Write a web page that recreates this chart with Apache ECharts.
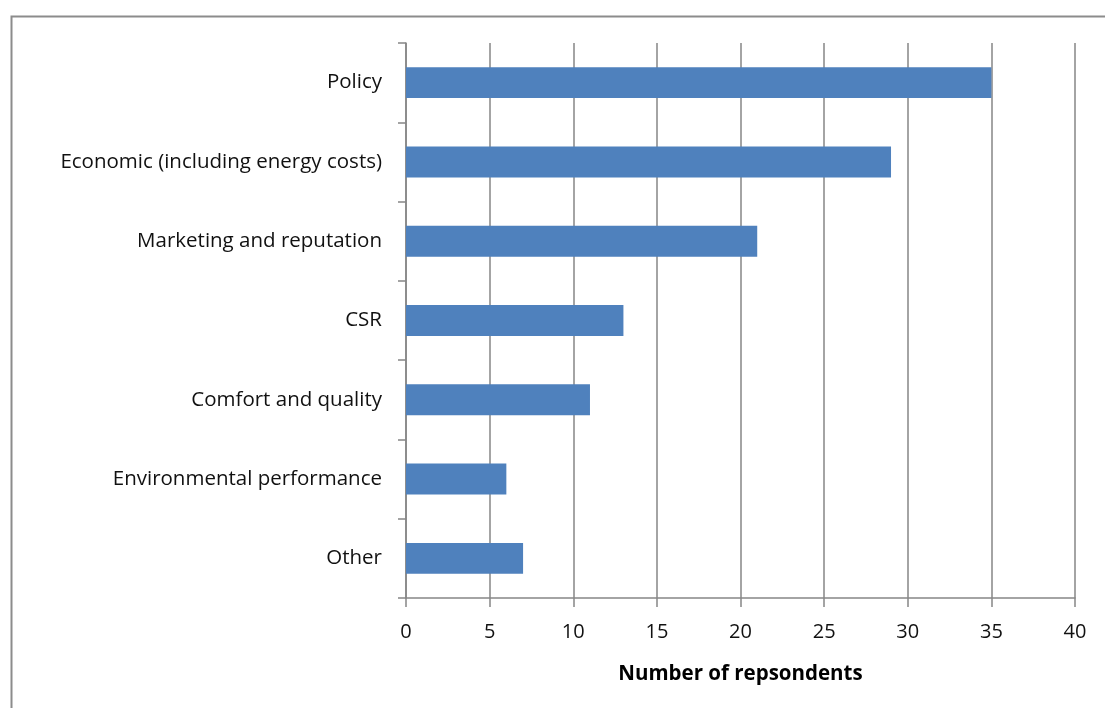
<!DOCTYPE html>
<html>
<head>
<meta charset="utf-8">
<script src="https://cdn.jsdelivr.net/npm/echarts@6/dist/echarts.min.js"></script>
<style>
html,body{margin:0;padding:0;background:#fff;}
#main{width:1105px;height:708px;}
</style>
</head>
<body>
<div id="main"></div>
<script>
const categories = ["Policy", "Economic (including energy costs)", "Marketing and reputation", "CSR", "Comfort and quality", "Environmental performance", "Other"];
const respondents = [35, 29, 21, 13, 11, 6, 7];
const xTicks = {min: 0, max: 40, interval: 5};

const chart = echarts.init(document.getElementById('main'), null, {renderer: 'canvas'});
const font = '"Open Sans", Lato, sans-serif';
chart.setOption({
  animation: false,
  backgroundColor: '#ffffff',
  graphic: [{
    type: 'rect',
    shape: {x: 11.5, y: 16.5, width: 1200, height: 800},
    style: {fill: 'none', stroke: '#8c8c8c', lineWidth: 2},
    silent: true
  }],
  grid: {left: 406, right: 30, top: 43, bottom: 110, containLabel: false},
  xAxis: {
    type: 'value',
    min: xTicks.min, max: xTicks.max, interval: xTicks.interval,
    name: 'Number of repsondents',
    nameLocation: 'middle',
    nameGap: 66,
    nameTextStyle: {fontFamily: font, fontSize: 20.5, fontWeight: 'bold', color: '#000'},
    axisLine: {show: true, lineStyle: {color: '#868686', width: 1.5}},
    axisTick: {show: true, length: 9, lineStyle: {color: '#868686', width: 1.5}},
    axisLabel: {fontFamily: font, fontSize: 20, color: '#111', margin: 24},
    splitLine: {show: true, lineStyle: {color: '#868686', width: 1.5}}
  },
  yAxis: {
    type: 'category',
    data: categories,
    inverse: true,
    axisLine: {show: true, lineStyle: {color: '#868686', width: 1.5}},
    axisTick: {show: true, length: 8, lineStyle: {color: '#868686', width: 1.5}},
    axisLabel: {fontFamily: font, fontSize: 20.5, color: '#111', margin: 24, padding: [4, 0, 0, 0]},
    splitLine: {show: false}
  },
  series: [{
    type: 'bar',
    data: respondents,
    barWidth: '39%',
    itemStyle: {color: '#4f81bd'}
  }]
});
</script>
</body>
</html>
